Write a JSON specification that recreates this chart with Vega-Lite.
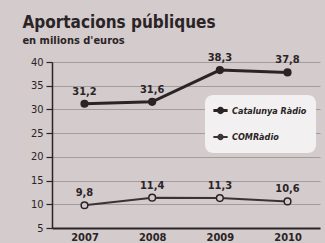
{
  "$schema": "https://vega.github.io/schema/vega-lite/v6.json",
  "width": 268,
  "height": 166,
  "autosize": {"type": "none"},
  "padding": {"left": 52, "top": 62, "right": 5, "bottom": 15},
  "background": "#d3cbcc",
  "config": {
    "view": {"stroke": null},
    "font": "DejaVu Sans Condensed"
  },
  "title": {
    "text": "Aportacions públiques",
    "subtitle": "en milions d'euros",
    "anchor": "start",
    "dx": -8,
    "offset": 5,
    "fontSize": 17,
    "fontWeight": "bold",
    "color": "#2b2426",
    "subtitleFontSize": 11,
    "subtitleFontWeight": "bold",
    "subtitleColor": "#2b2426",
    "subtitlePadding": 3
  },
  "data": {
    "values": [
      {"any": "2007", "valor": 31.2, "etiqueta": "31,2", "emissora": "Catalunya Ràdio"},
      {"any": "2008", "valor": 31.6, "etiqueta": "31,6", "emissora": "Catalunya Ràdio"},
      {"any": "2009", "valor": 38.3, "etiqueta": "38,3", "emissora": "Catalunya Ràdio"},
      {"any": "2010", "valor": 37.8, "etiqueta": "37,8", "emissora": "Catalunya Ràdio"},
      {"any": "2007", "valor": 9.8, "etiqueta": "9,8", "emissora": "COMRàdio"},
      {"any": "2008", "valor": 11.4, "etiqueta": "11,4", "emissora": "COMRàdio"},
      {"any": "2009", "valor": 11.3, "etiqueta": "11,3", "emissora": "COMRàdio"},
      {"any": "2010", "valor": 10.6, "etiqueta": "10,6", "emissora": "COMRàdio"}
    ]
  },
  "encoding": {
    "x": {
      "field": "any",
      "type": "ordinal",
      "scale": {"type": "point", "padding": 0.48},
      "axis": {
        "title": null,
        "labelAngle": 0,
        "labelFontSize": 11,
        "labelFontWeight": "bold",
        "labelColor": "#2b2426",
        "domainColor": "#2b2426",
        "domainWidth": 2,
        "ticks": false,
        "labelPadding": 3
      }
    },
    "y": {
      "field": "valor",
      "type": "quantitative",
      "scale": {"domain": [5, 40], "nice": false, "zero": false},
      "axis": {
        "title": null,
        "values": [5, 10, 15, 20, 25, 30, 35, 40],
        "labelFontSize": 11,
        "labelColor": "#2b2426",
        "domainColor": "#2b2426",
        "domainWidth": 1.5,
        "tickColor": "#2b2426",
        "tickSize": 6,
        "tickWidth": 1.2,
        "labelPadding": 3,
        "gridColor": "#a39b9c",
        "gridWidth": 1
      }
    },
    "color": {
      "field": "emissora",
      "type": "nominal",
      "scale": {"domain": ["Catalunya Ràdio", "COMRàdio"], "range": ["#2b2426", "#3a3335"]},
      "legend": {
        "title": null,
        "orient": "none",
        "legendX": 153,
        "legendY": 33,
        "fillColor": "#f2f0f0",
        "cornerRadius": 8,
        "padding": 9,
        "rowPadding": 11,
        "symbolType": "M-1.5,0L1.5,0M-0.45,0A0.45,0.45,0,1,1,0.45,0A0.45,0.45,0,1,1,-0.45,0",
        "symbolSize": 90,
        "symbolStrokeWidth": 2.5,
        "symbolFillColor": "#2b2426",
        "labelFontSize": 9,
        "labelFontWeight": "bold",
        "labelFontStyle": "italic",
        "labelColor": "#2b2426",
        "labelOffset": 5
      }
    }
  },
  "layer": [
    {
      "mark": {"type": "line"},
      "encoding": {
        "strokeWidth": {
          "field": "emissora",
          "type": "nominal",
          "scale": {"domain": ["Catalunya Ràdio", "COMRàdio"], "range": [3, 2]},
          "legend": null
        }
      }
    },
    {
      "mark": {"type": "point", "filled": true, "size": 45, "opacity": 1},
      "encoding": {
        "fill": {
          "field": "emissora",
          "type": "nominal",
          "scale": {"domain": ["Catalunya Ràdio", "COMRàdio"], "range": ["#2b2426", "#cfc7c8"]},
          "legend": null
        },
        "stroke": {"value": "#2b2426"},
        "strokeWidth": {"value": 1.5}
      }
    },
    {
      "mark": {"type": "text", "dy": -12, "fontSize": 11, "fontWeight": "bold", "color": "#2b2426"},
      "encoding": {
        "text": {"field": "etiqueta"},
        "color": {"value": "#2b2426"}
      }
    }
  ]
}
